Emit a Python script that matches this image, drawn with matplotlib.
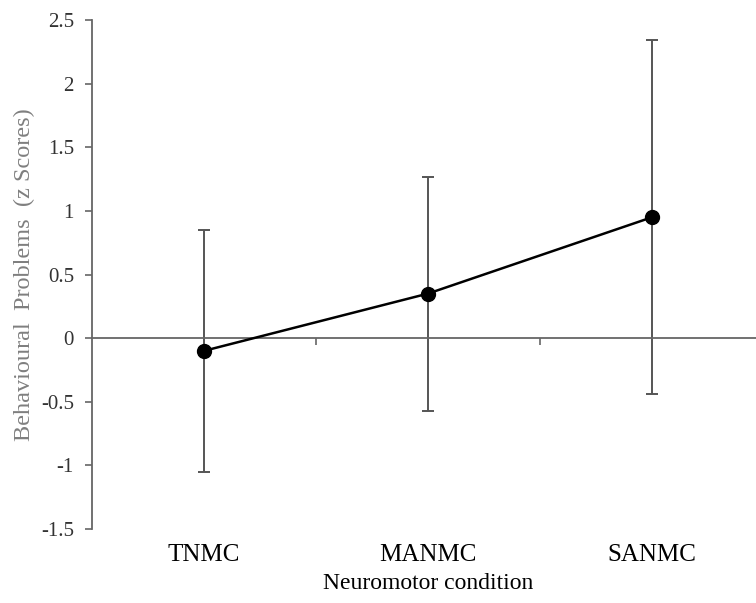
import matplotlib.pyplot as plt
import numpy as np

# data
conditions = ['TNMC', 'MANMC', 'SANMC']
means = [-0.10, 0.35, 0.95]
errors = [0.95, 0.92, 1.39]
y_ticks = [-1.5, -1, -0.5, 0, 0.5, 1, 1.5, 2, 2.5]
y_tick_labels = ['-1.5', '-1', '-0.5', '0', '0.5', '1', '1.5', '2', '2.5']

plt.rcParams['font.family'] = ['Liberation Serif', 'DejaVu Serif']

fig = plt.figure(figsize=(7.56, 6.03), dpi=100)
ax = fig.add_axes([92 / 756, 1 - 529 / 603, 672 / 756, 509 / 603])

x = np.arange(len(conditions))
ax.errorbar(x, means, yerr=errors, fmt='none', ecolor='#555555',
            elinewidth=1.4, capsize=4, capthick=1.4, zorder=2)
ax.plot(x, means, color='black', linewidth=1.8, marker='o',
        markersize=10, zorder=3)

ax.set_xlim(-0.5, 2.5)
ax.set_ylim(-1.5, 2.5)

for side in ['top', 'right']:
    ax.spines[side].set_visible(False)
ax.spines['left'].set_color('#666666')
ax.spines['left'].set_linewidth(1.3)
ax.spines['bottom'].set_position(('data', 0))
ax.spines['bottom'].set_color('#666666')
ax.spines['bottom'].set_linewidth(1.3)

ax.set_yticks(y_ticks, y_tick_labels)
ax.tick_params(axis='y', direction='out', length=5, width=1.2,
               color='#666666', labelsize=15, labelcolor='#333333', pad=8)
ax.set_xticks(x[:-1] + 0.5, [''] * (len(x) - 1))
ax.tick_params(axis='x', direction='out', length=5, width=1.2, color='#666666')

# category labels along the bottom edge
sec = ax.secondary_xaxis(0)
sec.set_xticks(x, conditions)
sec.spines['bottom'].set_visible(False)
sec.tick_params(axis='x', length=0, labelsize=18, pad=11)
sec.set_xlabel('Neuromotor condition', fontsize=17, labelpad=5)

ax.set_ylabel('Behavioural  Problems  (z Scores)', fontsize=17.5,
              color='#7f7f7f', labelpad=4)

fig.savefig('out.png', dpi=100)
